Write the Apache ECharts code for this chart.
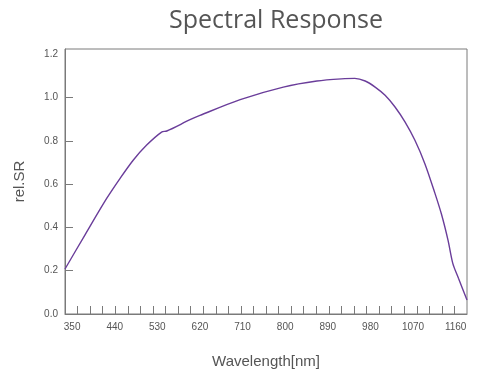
<!DOCTYPE html>
<html>
<head>
<meta charset="utf-8">
<script src="https://cdn.jsdelivr.net/npm/echarts@6/dist/echarts.min.js"></script>
<style>html,body{margin:0;padding:0;background:#fff}#c{width:478px;height:379px}</style>
</head>
<body>
<div id="c"></div>
<script>
const wavelengths = [335, 377, 423, 451, 479, 507, 539, 550, 599, 620, 705, 796, 867, 926, 947, 969, 990, 1011, 1032, 1053, 1074, 1095, 1116, 1130, 1144, 1154, 1166, 1184];
const relSR = [0.208, 0.365, 0.534, 0.626, 0.711, 0.780, 0.841, 0.846, 0.898, 0.918, 0.991, 1.049, 1.077, 1.088, 1.089, 1.077, 1.049, 1.011, 0.957, 0.888, 0.803, 0.695, 0.560, 0.462, 0.340, 0.234, 0.165, 0.065];
const xTickLabels = [350, 440, 530, 620, 710, 800, 890, 980, 1070, 1160];
const yTickLabels = [0, 0.2, 0.4, 0.6, 0.8, 1.0, 1.2];

const xMin = 335, xMax = 1184, yMax = 1.225;
const minorCount = 32;
const xMinorTicks = [];
for (let i = 1; i < minorCount; i++) xMinorTicks.push(xMin + (xMax - xMin) * i / minorCount);

const chart = echarts.init(document.getElementById('c'));
const gray = '#7a7a7a';
chart.setOption({
  animation: false,
  title: {
    text: 'Spectral Response',
    left: 271, top: 3, textAlign: 'center',
    textStyle: { fontFamily: 'Open Sans', fontSize: 25, fontWeight: 'normal', color: '#555' }
  },
  grid: { left: 65, right: 11, top: 49, bottom: 65, show: true, borderColor: gray, borderWidth: 1 },
  xAxis: {
    type: 'value', min: xMin, max: xMax,
    name: 'Wavelength[nm]', nameLocation: 'middle', nameGap: 40,
    nameTextStyle: { fontFamily: 'Liberation Sans', fontSize: 15, color: '#555' },
    axisLine: { lineStyle: { color: gray } },
    axisTick: { inside: true, length: 8, customValues: xMinorTicks, lineStyle: { color: gray } },
    axisLabel: { customValues: xTickLabels, formatter: v => String(v), fontFamily: 'Liberation Sans', fontSize: 10, color: '#555', margin: 8 },
    splitLine: { show: false }
  },
  yAxis: {
    type: 'value', min: 0, max: yMax,
    name: 'rel.SR', nameLocation: 'middle', nameGap: 38, nameRotate: 90,
    nameTextStyle: { fontFamily: 'Liberation Sans', fontSize: 15, color: '#555' },
    axisLine: { show: true, lineStyle: { color: gray } },
    axisTick: { show: true, inside: true, length: 8, customValues: yTickLabels.slice(1, -1), lineStyle: { color: gray } },
    axisLabel: { customValues: yTickLabels, formatter: v => v.toFixed(1), fontFamily: 'Liberation Sans', fontSize: 10, color: '#555', margin: 7 },
    splitLine: { show: false }
  },
  series: [{
    type: 'line',
    data: wavelengths.map((w, i) => [w, relSR[i]]),
    smooth: 0.3,
    showSymbol: false,
    lineStyle: { color: '#6a3d9a', width: 1.4 }
  }]
});
</script>
</body>
</html>
